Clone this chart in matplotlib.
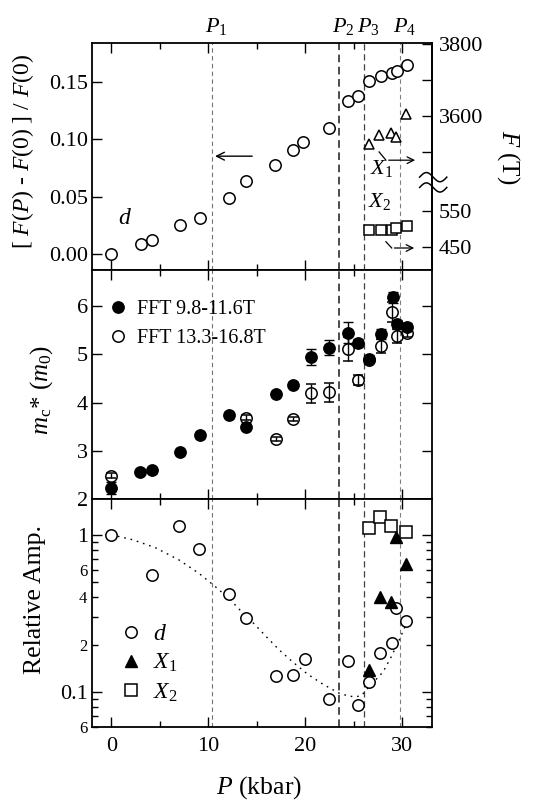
import numpy as np
import matplotlib
matplotlib.use('Agg')
import matplotlib.pyplot as plt
from matplotlib.ticker import FixedLocator, FixedFormatter, NullFormatter, NullLocator

plt.rcParams['font.family'] = ['Liberation Serif', 'DejaVu Serif']
plt.rcParams['mathtext.fontset'] = 'custom'
plt.rcParams['mathtext.rm'] = 'Liberation Serif'
plt.rcParams['mathtext.it'] = 'Liberation Serif:italic'
plt.rcParams['mathtext.bf'] = 'Liberation Serif:bold'

# ---------------- data ----------------
P_lines = [10.35, 23.5, 26.0, 29.8]
P_names = ['$P_1$', '$P_2$', '$P_3$', '$P_4$']

# top panel: relative change of d frequency, X1/X2 frequencies (T)
d_P = [0, 3.0, 4.2, 7.1, 9.1, 12.1, 13.9, 16.9, 18.75, 19.8, 22.45, 24.4, 25.4, 26.6, 27.8, 28.9, 29.4, 30.5]
d_dF = [0.000, 0.009, 0.012, 0.025, 0.031, 0.049, 0.064, 0.078, 0.091, 0.098, 0.110, 0.133, 0.138,
        0.151, 0.155, 0.158, 0.160, 0.165]
X1_P = [26.6, 27.6, 28.8, 29.3, 30.4]
X1_F = [3523, 3548, 3554, 3543, 3605]
X2_P = [26.6, 27.8, 28.9, 29.3, 30.5]
X2_F = [497, 497, 497, 502, 508]

# middle panel: cyclotron mass
mf_P = [0, 2.9, 4.2, 7.1, 9.1, 12.1, 13.9, 17.0, 18.75, 20.6, 22.45, 24.4, 25.4, 26.6, 27.8, 29.0, 29.4, 30.5]
mf_m = [2.23, 2.57, 2.60, 2.97, 3.33, 3.74, 3.50, 4.18, 4.37, 4.95, 5.14, 5.45, 5.24, 4.90, 5.42, 6.18, 5.62, 5.57]
mf_err = [0.12, 0.05, 0.05, 0.05, 0.06, 0.06, 0.05, 0.05, 0.05, 0.17, 0.15, 0.22, 0.08, 0.08, 0.1, 0.12, 0.1, 0.08]
mo_P = [0, 13.9, 17.0, 18.75, 20.6, 22.45, 24.4, 25.4, 26.6, 27.8, 28.9, 29.4, 30.5]
mo_m = [2.48, 3.69, 3.24, 3.66, 4.19, 4.21, 5.12, 4.47, 4.88, 5.17, 5.88, 5.38, 5.45]
mo_err = [0.05, 0.05, 0.04, 0.05, 0.2, 0.2, 0.25, 0.1, 0.08, 0.15, 0.2, 0.15, 0.08]

# bottom panel: relative amplitude
ad_P = [0, 4.2, 7.0, 9.0, 12.1, 13.9, 17.0, 18.75, 20.0, 22.45, 24.4, 25.4, 26.6, 27.7, 28.9, 29.3, 30.4]
ad_A = [1.0, 0.558, 1.14, 0.81, 0.417, 0.294, 0.126, 0.128, 0.162, 0.090, 0.158, 0.083, 0.116,
        0.178, 0.206, 0.344, 0.282]
a1_P = [26.6, 27.7, 28.8, 29.3, 30.4]
a1_A = [0.138, 0.403, 0.373, 0.97, 0.655]
a2_P = [26.6, 27.7, 28.8, 30.4]
a2_A = [1.10, 1.29, 1.14, 1.04]
fit_P = [0, 2.2, 4.5, 7.0, 9.0, 10.5, 12, 13.2, 14.5, 15.9, 17.3, 18.7, 20.2, 21.8, 23.5, 24.5,
         25.2, 25.8, 26.2, 27, 28, 28.8, 29.7, 30.5]
fit_A = [1.0, 0.93, 0.83, 0.69, 0.57, 0.48, 0.40, 0.335, 0.28, 0.227, 0.185, 0.155, 0.13, 0.112,
         0.098, 0.094, 0.093, 0.095, 0.102, 0.115, 0.134, 0.165, 0.216, 0.28]

# right-axis (broken) frequency scale
F_ticks = [450, 550, 3500, 3600, 3700, 3800]
F_labels = ['450', '550', '', '3600', '', '3800']

SLOPE = 0.000316
LO_END, HI_START = 600.0, 3420.0
V_LO_END = 0.0218 + (LO_END - 500) * SLOPE
V_HI_START = 0.1202 + (HI_START - 3600) * SLOPE


def f2v(F):
    F = np.asarray(F, float)
    lo = 0.0218 + (F - 500) * SLOPE
    hi = 0.1202 + (F - 3600) * SLOPE
    mid = V_LO_END + (F - LO_END) / (HI_START - LO_END) * (V_HI_START - V_LO_END)
    return np.where(F <= LO_END, lo, np.where(F >= HI_START, hi, mid))


def v2f(v):
    v = np.asarray(v, float)
    lo = 500 + (v - 0.0218) / SLOPE
    hi = 3600 + (v - 0.1202) / SLOPE
    mid = LO_END + (v - V_LO_END) / (V_HI_START - V_LO_END) * (HI_START - LO_END)
    return np.where(v <= V_LO_END, lo, np.where(v >= V_HI_START, hi, mid))


# ---------------- figure ----------------
fig = plt.figure(figsize=(5.41, 8.01), dpi=100)
L, W = 0.1701, 0.6275
ax1 = fig.add_axes([L, 0.6629, W, 0.2834])
ax2 = fig.add_axes([L, 0.3770, W, 0.2859])
ax3 = fig.add_axes([L, 0.0924, W, 0.2846])

FS = 16
for ax in (ax1, ax2, ax3):
    ax.set_xlim(-2, 33)
    ax.xaxis.set_major_locator(FixedLocator([0, 10, 20, 30]))
    ax.xaxis.set_minor_locator(FixedLocator([5, 15, 25]))
    ax.tick_params(which='both', direction='in', top=True, right=(ax is not ax1),
                   labelsize=FS, width=1.0)
    ax.tick_params(which='major', length=7)
    ax.tick_params(which='minor', length=4.5)
    ax.tick_params(axis='y', pad=3)
    ax.tick_params(axis='x', pad=7)
    for s in ax.spines.values():
        s.set_linewidth(1.3)
    ax.set_zorder(2)

# vertical dashed lines
vl_styles = [dict(color='0.45', lw=0.8, dashes=(4, 3)),
             dict(color='0.1', lw=1.1, dashes=(5, 3)),
             dict(color='0.25', lw=0.9, dashes=(5, 3)),
             dict(color='0.5', lw=0.8, dashes=(4, 3))]
for ax in (ax1, ax2, ax3):
    for p, st in zip(P_lines, vl_styles):
        ax.axvline(p, zorder=0, **st)

# ---- top panel ----
ax1.set_ylim(-0.014, 0.184)
ax1.yaxis.set_major_locator(FixedLocator([0.0, 0.05, 0.10, 0.15]))
ax1.yaxis.set_major_formatter(FixedFormatter(['0.00', '0.05', '0.10', '0.15']))
ax1.yaxis.set_minor_locator(NullLocator())
ax1.xaxis.set_major_formatter(NullFormatter())
ms = 8.2
ax1.plot(d_P, d_dF, 'o', mfc='white', mec='black', mew=1.1, ms=ms, zorder=3)
ax1.plot(X1_P, f2v(X1_F), '^', mfc='white', mec='black', mew=1.1, ms=7.5, zorder=3)
ax1.plot(X2_P, f2v(X2_F), 's', mfc='white', mec='black', mew=1.1, ms=7.8, zorder=3)

sec = ax1.secondary_yaxis('right', functions=(v2f, f2v))
sec.yaxis.set_major_locator(FixedLocator(F_ticks))
sec.yaxis.set_major_formatter(FixedFormatter(F_labels))
sec.yaxis.set_minor_locator(NullLocator())
sec.tick_params(direction='in', length=7, width=1.0, labelsize=FS, pad=5)
sec.spines['right'].set_linewidth(1.3)

for p, name in zip(P_lines, P_names):
    ax1.text(p + 0.45, 1.025, name, transform=ax1.get_xaxis_transform(),
             ha='center', va='bottom', fontsize=FS)

ax1.annotate('', xy=(10.4, 0.0853), xytext=(14.8, 0.0853),
             arrowprops=dict(arrowstyle='->', lw=1.0, color='black', mutation_scale=14))
ax1.plot([27.6, 28.3], [0.089, 0.0818], color='black', lw=0.9)
ax1.annotate('', xy=(31.6, 0.0818), xytext=(28.3, 0.0818),
             arrowprops=dict(arrowstyle='->', lw=0.9, color='black', mutation_scale=12))
ax1.plot([28.3, 28.9], [0.0107, 0.0052], color='black', lw=0.9)
ax1.annotate('', xy=(31.5, 0.0052), xytext=(28.9, 0.0052),
             arrowprops=dict(arrowstyle='->', lw=0.9, color='black', mutation_scale=12))
ax1.text(27.9, 0.0745, '$X_1$', fontsize=FS, ha='center', va='center')
ax1.text(27.7, 0.0455, '$X_2$', fontsize=FS, ha='center', va='center')
ax1.text(1.4, 0.031, '$d$', fontsize=FS + 1, ha='center', va='center')

# axis break marks on right spine
tt = np.linspace(0, 1, 60)
yt = ax1.get_yaxis_transform()
for off in (0.0045, -0.0045):
    ax1.plot(0.965 + 0.08 * tt, 0.0625 + off + 0.004 * np.sin(2 * np.pi * tt),
             transform=yt, color='black', lw=1.1, clip_on=False, zorder=5)

# ---- middle panel ----
ax2.set_ylim(2, 6.75)
ax2.yaxis.set_major_locator(FixedLocator([2, 3, 4, 5, 6]))
ax2.yaxis.set_major_formatter(FixedFormatter(['2', '3', '4', '5', '6']))
ax2.yaxis.set_minor_locator(NullLocator())
ax2.xaxis.set_major_formatter(NullFormatter())
e1 = ax2.errorbar(mf_P, mf_m, yerr=mf_err, fmt='o', color='black', mfc='black', mec='black',
                  ms=ms, capsize=3.5, elinewidth=1.0, capthick=1.0, zorder=3)
e2 = ax2.errorbar(mo_P, mo_m, yerr=mo_err, fmt='o', color='black', mfc='none', mec='black',
                  mew=1.1, ms=ms, capsize=3.5, elinewidth=1.0, capthick=1.0, zorder=4)
ax2.legend([e1[0], e2[0]], ['FFT 9.8-11.6T', 'FFT 13.3-16.8T'], loc='upper left',
           bbox_to_anchor=(0.047, 0.87), frameon=False, fontsize=14.5, handlelength=1.0,
           handletextpad=0.45, labelspacing=0.5, borderpad=0, borderaxespad=0,
           numpoints=1)

# ---- bottom panel ----
ax3.set_yscale('log')
ax3.set_ylim(0.0598, 1.69)
ax3.yaxis.set_major_locator(FixedLocator([0.1, 1.0]))
ax3.yaxis.set_major_formatter(FixedFormatter(['0.1', '1']))
minors = [0.06, 0.07, 0.08, 0.09, 0.2, 0.3, 0.4, 0.5, 0.6, 0.7, 0.8, 0.9]
minor_lbl = ['6', '', '', '', '2', '', '4', '', '6', '', '', '']
ax3.yaxis.set_minor_locator(FixedLocator(minors))
ax3.yaxis.set_minor_formatter(FixedFormatter(minor_lbl))
ax3.tick_params(axis='y', which='minor', labelsize=12)
ax3.xaxis.set_major_formatter(FixedFormatter(['0', '10', '20', '30']))
ax3.plot(fit_P, fit_A, color='black', lw=1.0, dashes=(1.2, 3.5), zorder=1)
h1, = ax3.plot(ad_P, ad_A, 'o', mfc='white', mec='black', mew=1.1, ms=ms, zorder=3)
h2, = ax3.plot(a1_P, a1_A, '^', mfc='black', mec='black', ms=9, zorder=4)
h3, = ax3.plot(a2_P, a2_A, 's', mfc='white', mec='black', mew=1.1, ms=8.5, zorder=3)
ax3.legend([h1, h2, h3], ['$d$', '$X_1$', '$X_2$'], loc='upper left',
           bbox_to_anchor=(0.08, 0.455), frameon=False, fontsize=17, handlelength=1.0,
           handletextpad=0.45, labelspacing=0.3, borderpad=0, borderaxespad=0, numpoints=1)

# ---- labels ----
W_px, H_px = 541.0, 801.0
fig.text(23 / W_px, 1 - 151 / H_px, '[ $F$($P$) - $F$(0) ] / $F$(0)', rotation=90,
         ha='center', va='center', fontsize=17)
fig.text(508 / W_px, 1 - 157 / H_px, '$F$ (T)', rotation=270, ha='center', va='center',
         fontsize=18)
fig.text(42 / W_px, 1 - 390 / H_px, r'$m_{\mathrm{c}}$* ($m_0$)', rotation=90,
         ha='center', va='center', fontsize=18)
fig.text(35 / W_px, 1 - 599 / H_px, 'Relative Amp.', rotation=90, ha='center', va='center',
         fontsize=18.5)
fig.text(259 / W_px, 1 - 788 / H_px, '$P$ (kbar)', ha='center', va='center', fontsize=18.5)

fig.savefig('out.png', dpi=100)
